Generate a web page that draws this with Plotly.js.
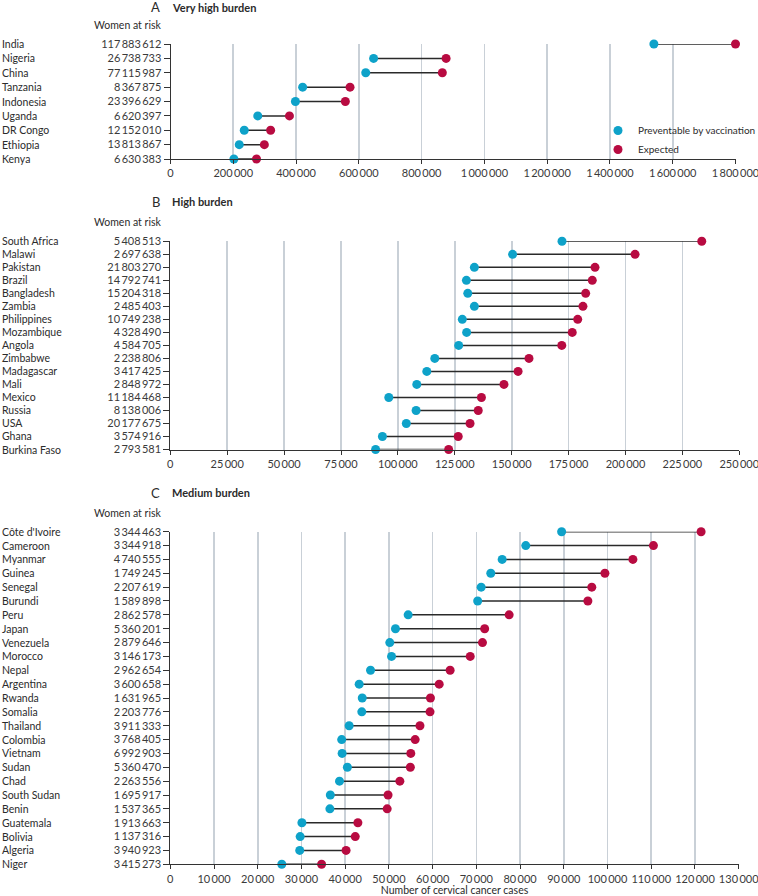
<!DOCTYPE html>
<html>
<head>
<meta charset="utf-8">
<script src="https://cdn.plot.ly/plotly-3.0.1.min.js"></script>
<style>html,body{margin:0;padding:0;background:#fff;overflow:hidden;}#chart{width:758px;height:896px;}</style>
</head>
<body>
<div id="chart"></div>
<script>
// ---------- Panel A: Very high burden ----------
const countriesA = ["India","Nigeria","China","Tanzania","Indonesia","Uganda","DR Congo","Ethiopia","Kenya"];
const womenA = [117883612,26738733,77115987,8367875,23396629,6620397,12152010,13813867,6630383];
const preventA = [1540000,647000,622000,421000,398000,278000,235000,219000,202000];
const expectedA = [1800000,878000,866000,572000,557000,379000,319000,299000,274000];

// ---------- Panel B: High burden ----------
const countriesB = ["South Africa","Malawi","Pakistan","Brazil","Bangladesh","Zambia","Philippines","Mozambique","Angola","Zimbabwe","Madagascar","Mali","Mexico","Russia","USA","Ghana","Burkina Faso"];
const womenB = [5408513,2697638,21803270,14792741,15204318,2485403,10749238,4328490,4584705,2238806,3417425,2848972,11184468,8138006,20177675,3574916,2793581];
const preventB = [172100,150400,133600,130100,130700,133600,128300,130200,126700,116200,112700,108300,96000,108000,103700,93200,90200];
const expectedB = [233500,204200,186600,185400,182500,181300,179000,176600,172000,157600,152800,146600,136700,135300,131700,126500,122300];

// ---------- Panel C: Medium burden ----------
const countriesC = ["Côte d'Ivoire","Cameroon","Myanmar","Guinea","Senegal","Burundi","Peru","Japan","Venezuela","Morocco","Nepal","Argentina","Rwanda","Somalia","Thailand","Colombia","Vietnam","Sudan","Chad","South Sudan","Benin","Guatemala","Bolivia","Algeria","Niger"];
const womenC = [3344463,3344918,4740555,1749245,2207619,1589898,2862578,5360201,2879646,3146173,2962654,3600658,1631965,2203776,3911333,3768405,6992903,5360470,2263556,1695917,1537365,1913663,1137316,3940923,3415273];
const preventC = [89500,81300,75900,73300,71100,70300,54400,51500,50200,50600,45800,43200,43900,43800,40900,39200,39300,40500,38700,36600,36500,30100,29700,29600,25500];
const expectedC = [121400,110500,105800,99400,96400,95500,77500,71900,71400,68600,64000,61500,59500,59400,57100,56000,55000,54900,52500,49800,49600,42900,42300,40200,34600];

const panelLetters = ["A","B","C"];
const panelTitles = ["Very high burden","High burden","Medium burden"];
const seriesNames = ["Preventable by vaccination","Expected"];
const xTitle = "Number of cervical cancer cases";
const riskHeader = "Women at risk";

const W = 758, H = 896;
const FONT = "Lato, 'Noto Sans', sans-serif";
const BLUE = "#0ea2c9", RED = "#b80b41", LINE = "#2a2a2a", GRID = "#c9d0d7", TXT = "#2b2b2b";

const panels = [
  {c: countriesA, w: womenA, p: preventA, e: expectedA, xmax: 1800000, dtick: 200000,
   px: [170.5, 735.5], py: [44, 159], titleY: 7, headY: 25},
  {c: countriesB, w: womenB, p: preventB, e: expectedB, xmax: 250000, dtick: 25000,
   px: [170.3, 739.3], py: [241.3, 449.5], titleY: 201.7, headY: 221.7},
  {c: countriesC, w: womenC, p: preventC, e: expectedC, xmax: 130000, dtick: 10000,
   px: [170.3, 738.7], py: [531.7, 864.3], titleY: 492.7, headY: 512.7}
];

function fmt(n){ return String(n).replace(/\B(?=(\d{3})+(?!\d))/g, "\u2009"); }
const fx = v => v / W;
const fy = v => 1 - v / H;

const traces = [];
const annotations = [];
const layout = {
  width: W, height: H,
  margin: {l: 0, r: 0, t: 0, b: 0, autoexpand: false},
  paper_bgcolor: "#fff", plot_bgcolor: "rgba(0,0,0,0)",
  font: {family: FONT, size: 11, color: TXT},
  separators: ".\u2009",
  showlegend: true,
  legend: {x: fx(598), y: fy(116), xanchor: "left", yanchor: "top",
           font: {family: FONT, size: 10, color: TXT}, bgcolor: "rgba(0,0,0,0)",
           itemwidth: 30, tracegroupgap: 0},
  annotations: annotations
};

panels.forEach((pn, i) => {
  const k = i === 0 ? "" : String(i + 1);
  const xa = "x" + k, ya = "y" + k;
  const n = pn.c.length;
  const idx = pn.c.map((_, j) => j);

  // connectors
  const lx = [], ly = [];
  idx.forEach(j => { lx.push(pn.p[j], pn.e[j], null); ly.push(j, j, null); });
  traces.push({type: "scatter", mode: "lines", x: lx, y: ly, xaxis: xa, yaxis: ya,
    line: {color: LINE, width: 1.5}, showlegend: false, hoverinfo: "skip", cliponaxis: false});
  traces.push({type: "scatter", mode: "markers", name: seriesNames[0], x: pn.p, y: idx,
    xaxis: xa, yaxis: ya, marker: {color: BLUE, size: 9}, showlegend: i === 0,
    legendgroup: "p", cliponaxis: false});
  traces.push({type: "scatter", mode: "markers", name: seriesNames[1], x: pn.e, y: idx,
    xaxis: xa, yaxis: ya, marker: {color: RED, size: 9}, showlegend: i === 0,
    legendgroup: "e", cliponaxis: false});

  layout["xaxis" + k] = {
    domain: [fx(pn.px[0]), fx(pn.px[1])], anchor: ya,
    range: [0, pn.xmax], dtick: pn.dtick, tick0: 0, tickformat: ",",
    showgrid: true, gridcolor: GRID, gridwidth: 1.6, zeroline: false,
    showline: true, linecolor: "#333", linewidth: 1,
    ticks: "outside", ticklen: 4, tickcolor: "#333", tickwidth: 1,
    ticklabeloverflow: "allow",
    tickfont: {family: FONT, size: 11, color: "#3a3a3a"}, fixedrange: true, automargin: false
  };
  if (i === 2) {
    layout["xaxis" + k].title = {text: xTitle, standoff: 4, font: {family: FONT, size: 10.5, color: TXT}};
  }
  layout["yaxis" + k] = {
    domain: [fy(pn.py[1]), fy(pn.py[0])], anchor: xa,
    range: [n - 1, 0], tickvals: idx, ticktext: pn.w.map(fmt),
    showgrid: false, zeroline: false,
    showline: true, linecolor: "#333", linewidth: 1,
    ticks: "outside", ticklen: 6, tickcolor: "#333", tickwidth: 1,
    ticklabeloverflow: "allow",
    tickfont: {family: FONT, size: 11, color: "#3a3a3a"}, fixedrange: true, automargin: false
  };

  // country names
  pn.c.forEach((name, j) => {
    annotations.push({xref: "paper", yref: ya, x: 0, y: j, text: name, showarrow: false,
      xanchor: "left", yanchor: "middle", font: {family: FONT, size: 10.5, color: TXT}});
  });
  // header
  annotations.push({xref: "paper", yref: "paper", x: fx(163), y: fy(pn.headY), text: riskHeader,
    showarrow: false, xanchor: "right", yanchor: "middle", font: {family: FONT, size: 10.5, color: TXT}});
  // panel title
  annotations.push({xref: "paper", yref: "paper", x: fx(162), y: fy(pn.titleY), text: panelLetters[i],
    showarrow: false, xanchor: "right", yanchor: "middle", font: {family: FONT, size: 13, color: TXT}});
  annotations.push({xref: "paper", yref: "paper", x: fx(170), y: fy(pn.titleY), text: "<b>" + panelTitles[i] + "</b>",
    showarrow: false, xanchor: "left", yanchor: "middle", font: {family: FONT, size: 11, color: TXT}});
});

Plotly.newPlot("chart", traces, layout, {displayModeBar: false, staticPlot: true});
</script>
</body>
</html>
